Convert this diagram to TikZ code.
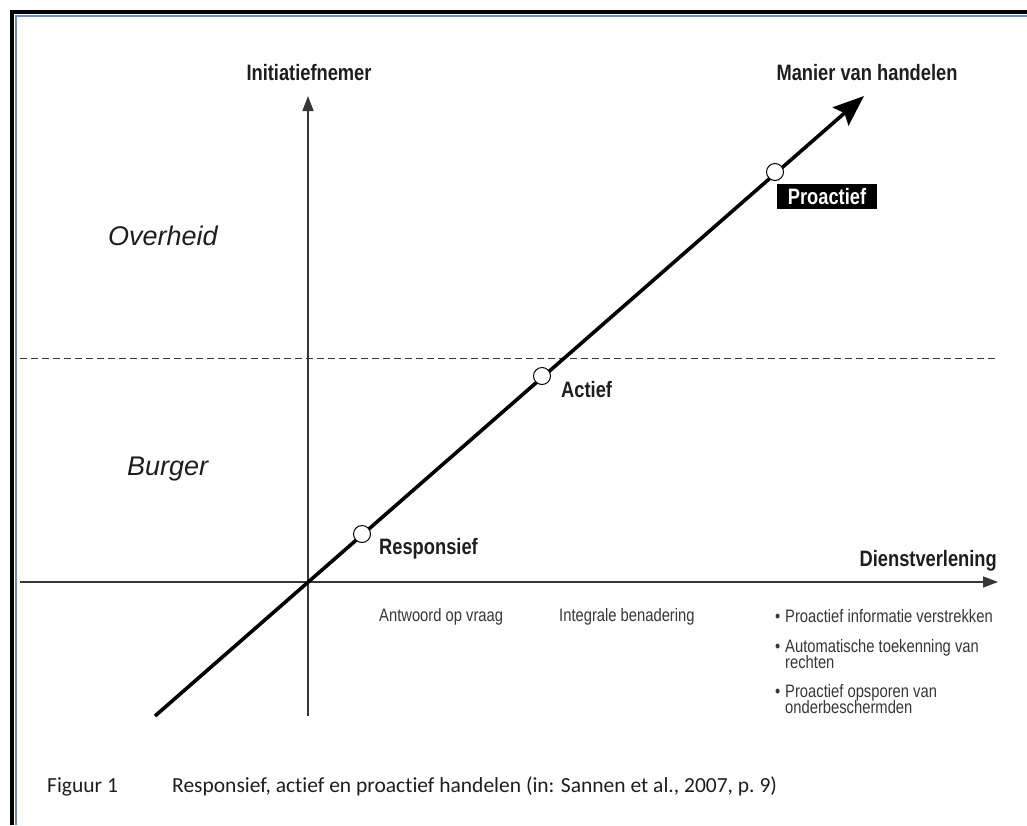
\documentclass[tikz,border=0pt]{standalone}
\usepackage{fontspec}
\setmainfont{Liberation Sans}
\newfontfamily\lblfont[FakeStretch=0.82]{Liberation Sans}
\newfontfamily\smallfont[FakeStretch=0.82]{Liberation Sans}
\newfontfamily\capfont[Ligatures=NoCommon]{Carlito}
\usetikzlibrary{arrows.meta}
\definecolor{frameblue}{RGB}{100,142,206}
\definecolor{ink}{RGB}{30,30,30}
\definecolor{axisgray}{RGB}{55,55,55}
\begin{document}
\begin{tikzpicture}[x=1pt,y=-1pt,
  axis/.style={draw=axisgray,line width=1.6pt,-{Triangle[length=15pt,width=11pt]}},
  diag/.style={draw=black,line width=3.6pt,-{Stealth[length=31pt,width=24pt,inset=5pt]}},
  marker/.style={circle,draw=black,fill=white,line width=1pt,inner sep=0pt,minimum size=17pt},
  head/.style={font=\lblfont\bfseries\fontsize{22.3}{25}\selectfont,text=ink,inner sep=0pt},
  zone/.style={font=\itshape\fontsize{27}{31}\selectfont,text=ink,inner sep=0pt,anchor=base west},
  note/.style={font=\smallfont\fontsize{18}{20}\selectfont,text=axisgray,inner sep=0pt,anchor=base west},
  caption/.style={font=\capfont\fontsize{21.5}{24}\selectfont,text=ink,inner sep=0pt,anchor=base west}]
\useasboundingbox (0,0) rectangle (1027,825);
\fill[white] (0,0) rectangle (1027,825);

% page frame
\draw[black,line width=4pt] (12,825) -- (12,12) -- (1027,12);
\draw[frameblue,line width=2pt] (16,825) -- (16,16) -- (1027,16);

% key points
\coordinate (O) at (308,582);
\coordinate (ybot) at (308,716);
\coordinate (ytop) at (308,96);
\coordinate (xleft) at (20,582);
\coordinate (xright) at (998,582);
\coordinate (dleft) at (20,358);
\coordinate (dright) at (998,358);
\coordinate (dstart) at (155,716);
\coordinate (dend) at (864,96);

% boundary between citizen and government
\draw[axisgray,line width=0.9pt,dash pattern=on 7pt off 4pt] (dleft) -- (dright);

% axes
\draw[axis] (ybot) -- (ytop);
\draw[axis] (xleft) -- (xright);

% way of acting
\draw[diag] (dstart) -- (dend);
\node[marker] (mresp) at (362,534) {};
\node[marker] (mact) at (542,376) {};
\node[marker] (mpro) at (775,172) {};

% axis titles
\node[head,anchor=base] (tinit) at (309,80) {Initiatiefnemer};
\node[head,anchor=base] (tmanier) at (867,80) {Manier van handelen};
\node[head,anchor=base east] (tdienst) at (997,566) {Dienstverlening};

% stages
\node[head,anchor=base west] (lresp) at (379,554) {Responsief};
\node[head,anchor=base west] (lact) at (561,397) {Actief};
\node[fill=black,text=white,font=\lblfont\bfseries\fontsize{22.3}{25}\selectfont,
      minimum width=100pt,minimum height=25pt,inner sep=0pt] (lpro) at (827,196.5) {Proactief};

% initiators
\node[zone] (zover) at (108,245) {Overheid};
\node[zone] (zburg) at (127,475) {Burger};

% kinds of service
\node[note] (n1) at (379,621) {Antwoord op vraag};
\node[note] (n2) at (559,621) {Integrale benadering};
\node[note] (b1) at (775,622) {\textbullet};
\node[note] (b1t) at (785,622) {Proactief informatie verstrekken};
\node[note] (b2) at (775,652) {\textbullet};
\node[note] (b2t) at (785,652) {Automatische toekenning van};
\node[note] (b2u) at (785,668) {rechten};
\node[note] (b3) at (775,697) {\textbullet};
\node[note] (b3t) at (785,697) {Proactief opsporen van};
\node[note] (b3u) at (785,713) {onderbeschermden};

% caption
\node[caption] (cnum) at (47,792) {Figuur 1};
\node[caption] (ctext) at (172,792) {Responsief, actief en proactief handelen (in: Sannen et al., 2007, p.~9)};
\end{tikzpicture}
\end{document}
